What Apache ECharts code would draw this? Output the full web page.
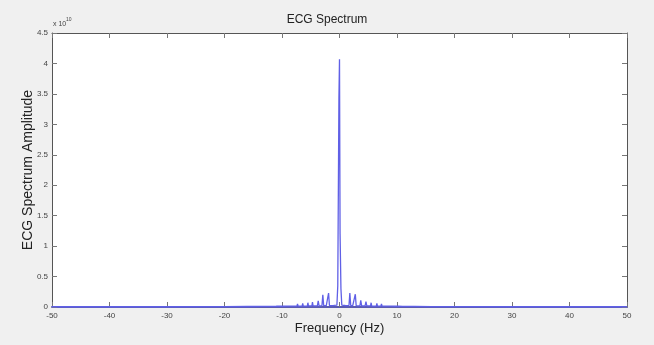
<!DOCTYPE html>
<html>
<head>
<meta charset="utf-8">
<script src="https://cdn.jsdelivr.net/npm/echarts@6/dist/echarts.min.js"></script>
<style>html,body{margin:0;padding:0;background:#f0f0f0;}#c{width:654px;height:345px;}</style>
</head>
<body>
<div id="c"></div>
<script>
// Frequency (Hz)
const freqHz = [-50, -40, -30, -20, -16, -13, -11, -10.2, -9.6, -9.2, -9.1, -9.0, -8.3, -8.2, -8.1, -7.4, -7.3, -7.2, -6.5, -6.4, -6.3, -5.6, -5.5, -5.4, -4.8, -4.7, -4.6, -3.85, -3.7, -3.55, -3.05, -2.9, -2.75, -2.3, -2.05, -1.9, -1.75, -1.0, -0.45, -0.3, -0.1, 0, 0.1, 0.25, 0.4, 1.0, 1.65, 1.8, 1.95, 2.3, 2.6, 2.75, 2.9, 3.55, 3.7, 3.85, 4.45, 4.6, 4.75, 5.4, 5.5, 5.6, 6.4, 6.5, 6.6, 7.2, 7.3, 7.4, 8.1, 8.2, 8.3, 9.0, 9.1, 9.2, 9.6, 10.2, 11, 13, 16, 20, 30, 40, 50];
// ECG spectrum amplitude (x 10^10)
const ampE10 = [0.004, 0.004, 0.004, 0.005, 0.008, 0.01, 0.012, 0.014, 0.012, 0.014, 0.03, 0.014, 0.014, 0.04, 0.015, 0.015, 0.05, 0.015, 0.016, 0.06, 0.016, 0.016, 0.07, 0.017, 0.018, 0.08, 0.018, 0.02, 0.1, 0.02, 0.022, 0.2, 0.022, 0.022, 0.024, 0.23, 0.024, 0.025, 0.03, 0.35, 3.43, 4.07, 1.2, 0.3, 0.03, 0.025, 0.024, 0.23, 0.024, 0.022, 0.022, 0.21, 0.022, 0.02, 0.11, 0.02, 0.018, 0.09, 0.018, 0.017, 0.07, 0.016, 0.016, 0.06, 0.016, 0.015, 0.05, 0.015, 0.015, 0.04, 0.014, 0.014, 0.03, 0.014, 0.012, 0.013, 0.011, 0.009, 0.007, 0.005, 0.004, 0.004, 0.004];
const xTicks = [-50, -40, -30, -20, -10, 0, 10, 20, 30, 40, 50];
const yTicks = [0, 0.5, 1, 1.5, 2, 2.5, 3, 3.5, 4, 4.5];

const seriesData = freqHz.map((f, i) => [f, ampE10[i]]);
const chart = echarts.init(document.getElementById('c'), null, {renderer: 'canvas'});
const font = 'Liberation Sans, Arial, sans-serif';
const tickStyle = {show: true, inside: true, length: 5, lineStyle: {color: '#777', width: 1}};
const axisLineStyle = {show: true, onZero: false, lineStyle: {color: '#555', width: 1}};
chart.setOption({
  backgroundColor: '#f0f0f0',
  animation: false,
  title: {
    text: 'ECG Spectrum', left: 'center', top: 9,
    textStyle: {fontFamily: font, fontSize: 12, fontWeight: 'normal', color: '#222'}
  },
  grid: {left: 52, right: 27, top: 33, bottom: 38, show: true, backgroundColor: '#ffffff', borderWidth: 0},
  xAxis: [{
    type: 'value', min: xTicks[0], max: xTicks[xTicks.length - 1], interval: 10, position: 'bottom',
    name: 'Frequency (Hz)', nameLocation: 'middle', nameGap: 15, nameMoveOverlap: false,
    nameTextStyle: {fontFamily: font, fontSize: 13, color: '#222'},
    axisLine: {show: true, onZero: false, lineStyle: {color: '#5a5ab0', width: 2}},
    axisTick: tickStyle, splitLine: {show: false},
    axisLabel: {fontFamily: font, fontSize: 8, color: '#444', margin: 5}
  }, {
    type: 'value', min: xTicks[0], max: xTicks[xTicks.length - 1], interval: 10, position: 'top',
    axisLine: axisLineStyle, axisTick: tickStyle, splitLine: {show: false}, axisLabel: {show: false}
  }],
  yAxis: [{
    type: 'value', min: yTicks[0], max: yTicks[yTicks.length - 1], interval: 0.5, position: 'left',
    name: 'ECG Spectrum Amplitude', nameLocation: 'middle', nameGap: 17, nameMoveOverlap: false,
    nameTextStyle: {fontFamily: font, fontSize: 14, color: '#222'},
    axisLine: axisLineStyle, axisTick: tickStyle, splitLine: {show: false},
    axisLabel: {fontFamily: font, fontSize: 8, color: '#444', margin: 4}
  }, {
    type: 'value', min: yTicks[0], max: yTicks[yTicks.length - 1], interval: 0.5, position: 'right',
    axisLine: axisLineStyle, axisTick: tickStyle, splitLine: {show: false}, axisLabel: {show: false}
  }],
  graphic: [
    {type: 'text', left: 53, top: 21, style: {text: 'x 10', fontFamily: font, fontSize: 7, fill: '#444'}},
    {type: 'text', left: 66, top: 17, style: {text: '10', fontFamily: font, fontSize: 5, fill: '#444'}}
  ],
  series: [{
    type: 'line', data: seriesData, showSymbol: false, clip: false,
    lineStyle: {color: '#6060e6', width: 1.3}, z: 5
  }]
});
</script>
</body>
</html>
